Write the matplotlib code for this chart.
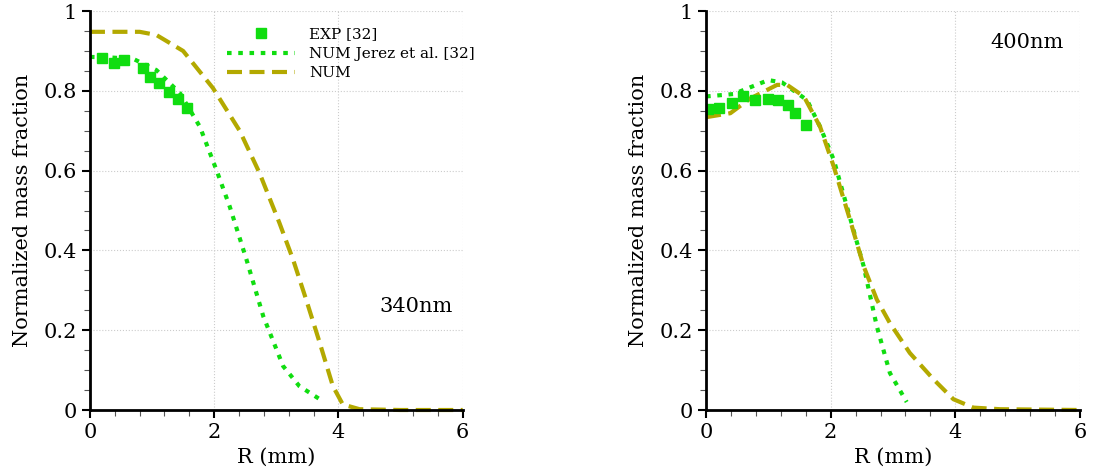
import numpy as np
import matplotlib.pyplot as plt
from matplotlib.ticker import MultipleLocator

plt.rcParams['font.family'] = ['DejaVu Serif']

# 340nm panel
exp_r_340 = [0.2, 0.38, 0.55, 0.85, 0.96, 1.11, 1.27, 1.42, 1.57]
exp_y_340 = [0.883, 0.871, 0.877, 0.857, 0.834, 0.819, 0.796, 0.780, 0.756]
jer_r_340 = [0.0, 0.3, 0.7, 1.07, 1.45, 1.77, 2.04, 2.25, 2.52, 2.79, 3.11, 3.37, 3.75]
jer_y_340 = [0.885, 0.884, 0.88, 0.852, 0.794, 0.71, 0.60, 0.51, 0.377, 0.235, 0.11, 0.06, 0.022]
num_r_340 = [0.0, 0.8, 1.07, 1.5, 1.98, 2.41, 2.73, 3.05, 3.27, 3.48, 3.7, 3.91, 4.07, 4.34, 5.0, 6.0]
num_y_340 = [0.948, 0.948, 0.94, 0.9, 0.807, 0.70, 0.594, 0.469, 0.377, 0.277, 0.168, 0.06, 0.014, 0.002, 0.0, 0.0]

# 400nm panel
exp_r_400 = [0.03, 0.21, 0.41, 0.59, 0.78, 0.99, 1.16, 1.32, 1.43, 1.60]
exp_y_400 = [0.755, 0.757, 0.769, 0.786, 0.777, 0.779, 0.776, 0.765, 0.744, 0.715]
jer_r_400 = [0.0, 0.44, 0.71, 1.0, 1.22, 1.62, 1.83, 2.05, 2.26, 2.53, 2.74, 2.95, 3.22]
jer_y_400 = [0.786, 0.792, 0.809, 0.827, 0.821, 0.777, 0.71, 0.627, 0.51, 0.36, 0.21, 0.093, 0.02]
num_r_400 = [0.0, 0.39, 0.71, 1.14, 1.3, 1.57, 1.83, 2.05, 2.31, 2.53, 2.74, 2.95, 3.27, 3.65, 3.97, 4.29, 4.72, 6.0]
num_y_400 = [0.734, 0.744, 0.781, 0.815, 0.815, 0.786, 0.71, 0.61, 0.477, 0.36, 0.277, 0.218, 0.143, 0.077, 0.027, 0.006, 0.002, 0.0]

x_ticks = [0, 2, 4, 6]
x_labels = ['0', '2', '4', '6']
y_ticks = [0, 0.2, 0.4, 0.6, 0.8, 1.0]
y_labels = ['0', '0.2', '0.4', '0.6', '0.8', '1']

green = '#10dd10'
olive = '#b3a900'
dots = (0, (1.1, 1.6))
dashes = (0, (3.6, 1.8))

fig = plt.figure(figsize=(10.93, 4.71), dpi=100)
ax1 = fig.add_axes([0.0823, 0.1295, 0.341, 0.847])
ax2 = fig.add_axes([0.646, 0.1295, 0.342, 0.847])

def setup(ax):
    ax.set_xlim(0, 6)
    ax.set_ylim(0, 1)
    ax.set_xticks(x_ticks)
    ax.set_xticklabels(x_labels)
    ax.set_yticks(y_ticks)
    ax.set_yticklabels(y_labels)
    ax.xaxis.set_minor_locator(MultipleLocator(0.4))
    ax.yaxis.set_minor_locator(MultipleLocator(0.05))
    ax.spines['top'].set_visible(False)
    ax.spines['right'].set_visible(False)
    ax.spines['left'].set_linewidth(2)
    ax.spines['bottom'].set_linewidth(2)
    ax.tick_params(which='major', direction='out', length=6, width=1.5, labelsize=15)
    ax.tick_params(which='minor', direction='out', length=4, width=0.8, color='#555555')
    ax.grid(True, which='major', linestyle=':', color='#cccccc', linewidth=0.8)
    ax.set_xlabel('R (mm)', fontsize=15, labelpad=4)
    ax.set_ylabel('Normalized mass fraction', fontsize=15, labelpad=8)

for ax in (ax1, ax2):
    setup(ax)

ax1.plot(jer_r_340, jer_y_340, linestyle=dots, color=green, linewidth=3, label='NUM Jerez et al. [32]', clip_on=False)
ax1.plot(num_r_340, num_y_340, linestyle=dashes, color=olive, linewidth=3, label='NUM', clip_on=False)
ax1.plot(exp_r_340, exp_y_340, 's', color=green, markersize=7, linestyle='none', label='EXP [32]')
ax1.text(5.25, 0.26, '340nm', fontsize=15, ha='center', va='center')

ax2.plot(jer_r_400, jer_y_400, linestyle=dots, color=green, linewidth=3, clip_on=False)
ax2.plot(num_r_400, num_y_400, linestyle=dashes, color=olive, linewidth=3, clip_on=False)
ax2.plot(exp_r_400, exp_y_400, 's', color=green, markersize=7, linestyle='none')
ax2.text(5.15, 0.92, '400nm', fontsize=15, ha='center', va='center')

handles, labels = ax1.get_legend_handles_labels()
order = [2, 0, 1]
ax1.legend([handles[i] for i in order], [labels[i] for i in order],
           loc='upper left', bbox_to_anchor=(0.33, 0.993), frameon=False,
           fontsize=11, handlelength=4.5, labelspacing=0.35, handletextpad=0.9)

fig.savefig('out.png', dpi=100)
